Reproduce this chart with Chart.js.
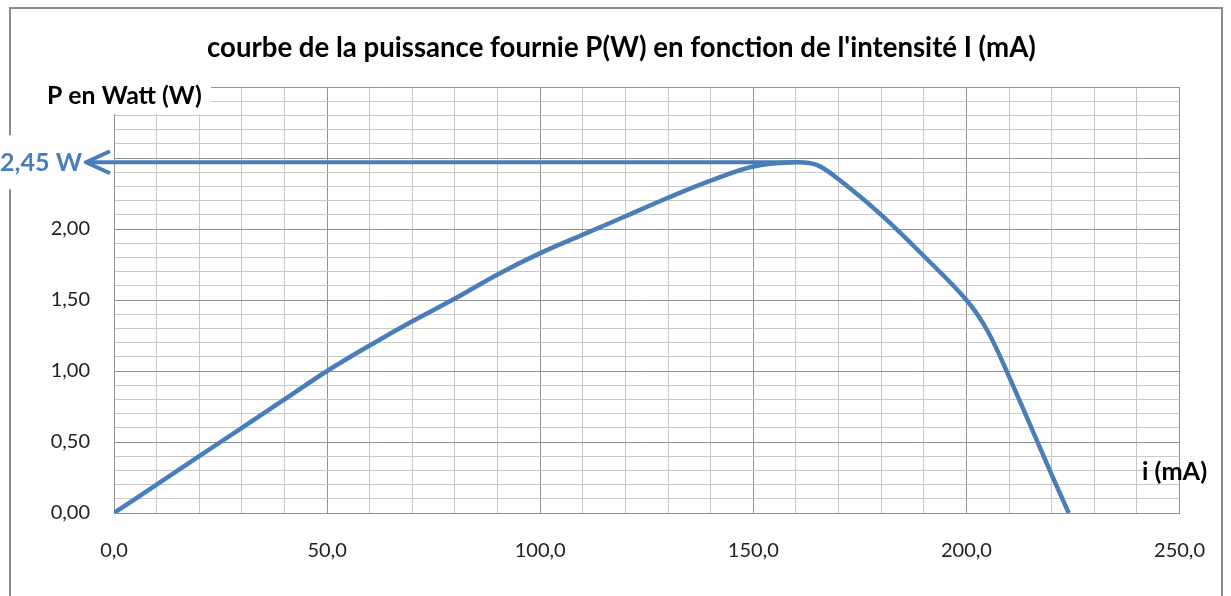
<!DOCTYPE html>
<html>
<head>
<meta charset="utf-8">
<script src="https://cdn.jsdelivr.net/npm/chart.js@4"></script>
<style>
  html, body { margin: 0; padding: 0; background: #fff; }
  canvas { display: block; }
</style>
</head>
<body>
<canvas id="chart" width="1231" height="596"></canvas>
<script>
// intensité (mA) et puissance (W)
const intensite = [0, 10, 20, 30, 40, 50, 60, 70, 80, 90, 100, 110, 120, 130, 140, 150, 160, 165, 170, 180, 190, 200, 205, 210, 220, 224];
const puissance = [0, 0.20, 0.40, 0.60, 0.80, 1.00, 1.18, 1.35, 1.51, 1.68, 1.83, 1.96, 2.09, 2.22, 2.34, 2.44, 2.47, 2.45, 2.35, 2.10, 1.81, 1.50, 1.28, 0.96, 0.27, 0];

const titre = "courbe de la puissance fournie P(W) en fonction de l'intensité I (mA)";
const labelY = "P en Watt (W)";
const labelX = "i (mA)";
const maxLabel = "2,45 W";
const maxI = 160;
const maxP = 2.47;

const BLUE = "#4a7ebb";
const MAJOR = "#939393";
const MINOR = "#c8c8c8";
const FONT = "Lato, 'Liberation Sans', sans-serif";

const isMajorY = v => Math.abs(v * 2 - Math.round(v * 2)) < 1e-6;
const isMajorX = v => Math.abs(v % 50) < 1e-6;

function fitFont(ctx, text, weight, width) {
  let size = 30;
  ctx.font = `${weight} ${size}px ${FONT}`;
  size = size * width / ctx.measureText(text).width;
  return `${weight} ${size.toFixed(1)}px ${FONT}`;
}

const frame = {
  id: "frame",
  beforeDraw(chart) {
    const { ctx } = chart;
    ctx.save();
    ctx.fillStyle = "#fff";
    ctx.fillRect(0, 0, chart.width, chart.height);
    ctx.strokeStyle = "#8a8a8a";
    ctx.lineWidth = 2;
    ctx.strokeRect(10, 8, 1212, 620);
    ctx.restore();
  },
  afterDraw(chart) {
    const { ctx, scales } = chart;
    const area = chart.chartArea;
    ctx.save();

    // titre
    ctx.fillStyle = "#000";
    ctx.textBaseline = "middle";
    ctx.textAlign = "left";
    ctx.font = fitFont(ctx, titre, "bold", 828);
    ctx.fillText(titre, 207, 48);

    // label axe Y avec fond blanc
    ctx.fillStyle = "#fff";
    ctx.fillRect(40, 80, 171, 34);
    ctx.fillStyle = "#000";
    ctx.font = fitFont(ctx, labelY, "bold", 155);
    ctx.fillText(labelY, 47, 96);

    // label axe X
    ctx.font = fitFont(ctx, labelX, "bold", 65);
    ctx.fillText(labelX, 1142, 472);

    // flèche vers le maximum
    const y = scales.y.getPixelForValue(maxP);
    const x0 = scales.x.getPixelForValue(maxI);
    const tip = area.left - 28;
    ctx.strokeStyle = BLUE;
    ctx.lineWidth = 4;
    ctx.beginPath();
    ctx.moveTo(x0, y);
    ctx.lineTo(tip + 2, y);
    ctx.stroke();
    ctx.lineJoin = "miter";
    ctx.beginPath();
    ctx.moveTo(tip + 24, y - 11);
    ctx.lineTo(tip, y);
    ctx.lineTo(tip + 24, y + 11);
    ctx.stroke();

    // valeur max
    ctx.fillStyle = "#fff";
    ctx.fillRect(0, y - 27, tip - 2, 54);
    ctx.fillStyle = BLUE;
    ctx.font = fitFont(ctx, maxLabel, "bold", 82);
    ctx.fillText(maxLabel, 0, y + 1);

    ctx.restore();
  }
};

new Chart(document.getElementById("chart"), {
  type: "line",
  data: {
    datasets: [{
      data: intensite.map((x, i) => ({ x, y: puissance[i] })),
      borderColor: BLUE,
      borderWidth: 4.5,
      pointRadius: 0,
      fill: false,
      tension: 0.35
    }]
  },
  options: {
    responsive: false,
    animation: false,
    layout: { padding: { top: 87, right: 47, left: 0, bottom: 0 } },
    plugins: {
      legend: { display: false },
      tooltip: { enabled: false }
    },
    scales: {
      x: {
        type: "linear",
        min: 0,
        max: 250,
        afterFit: scale => { scale.height = 83; },
        border: { color: MAJOR },
        grid: {
          drawTicks: false,
          color: c => isMajorX(c.tick.value) ? MAJOR : MINOR
        },
        ticks: {
          stepSize: 10,
          autoSkip: false,
          maxRotation: 0,
          padding: 26,
          color: "#222",
          font: { family: FONT, size: 20 },
          callback: v => isMajorX(v) ? v.toFixed(1).replace(".", ",") : ""
        }
      },
      y: {
        min: 0,
        max: 3,
        afterFit: scale => { scale.width = 114; },
        border: { color: MAJOR },
        grid: {
          drawTicks: false,
          color: c => isMajorY(c.tick.value) ? MAJOR : MINOR
        },
        ticks: {
          stepSize: 0.1,
          autoSkip: false,
          padding: 24,
          color: "#222",
          font: { family: FONT, size: 20 },
          callback: v => (isMajorY(v) && v < 2.4) ? v.toFixed(2).replace(".", ",") : ""
        }
      }
    }
  },
  plugins: [frame]
});
</script>
</body>
</html>
